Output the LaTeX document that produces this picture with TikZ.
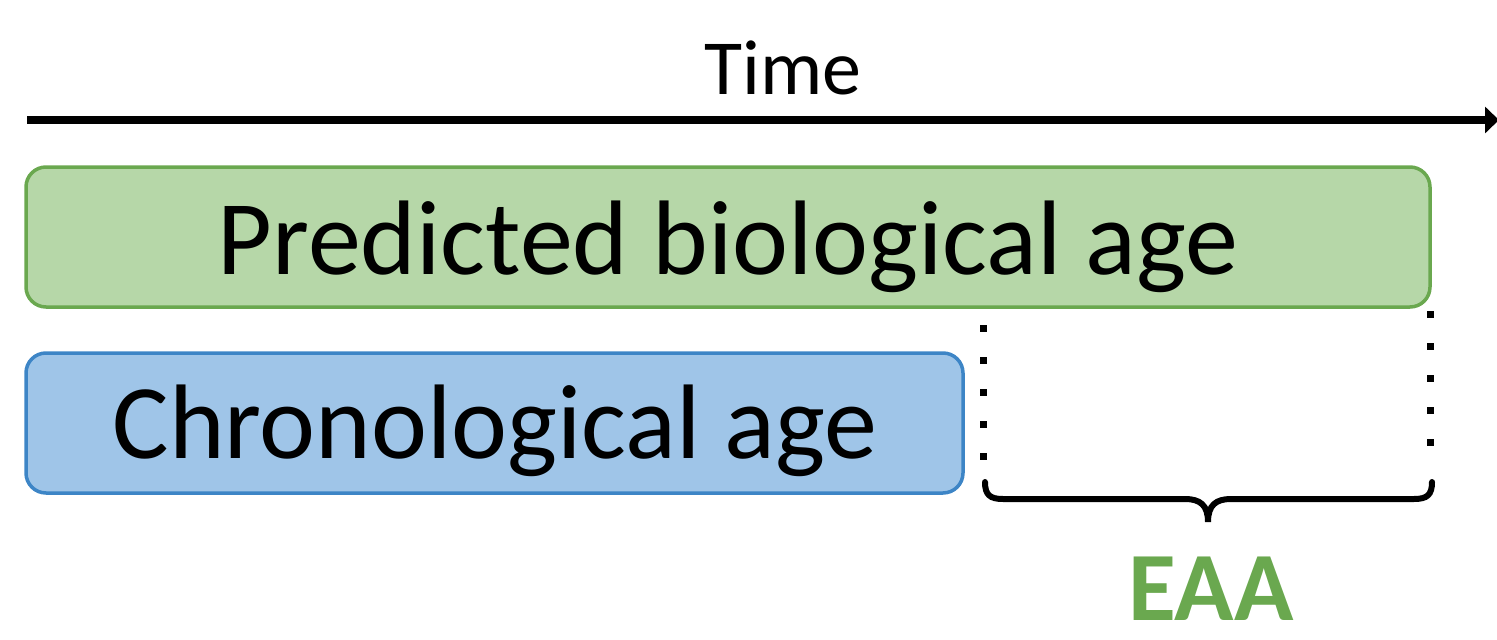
\documentclass[tikz,border=0pt]{standalone}
\usepackage{fontspec}
\setmainfont{Carlito}
\usetikzlibrary{arrows.meta}
\definecolor{gfill}{HTML}{B6D7A8}
\definecolor{gdraw}{HTML}{6AA84F}
\definecolor{bfill}{HTML}{9FC5E8}
\definecolor{bdraw}{HTML}{3D85C6}
\tikzset{
  agebox/.style={rounded corners=20pt, line width=3.5pt, inner sep=0pt, minimum height=140pt},
  bigtext/.style={font=\fontsize{106}{120}\selectfont, anchor=base, inner sep=0pt},
  dotline/.style={line width=7pt, dash pattern=on 7pt off 25pt},
}
\begin{document}
\begin{tikzpicture}[x=1pt,y=-1pt]
\useasboundingbox (0,0) rectangle (1497,640);
% time axis
\coordinate (t0) at (27,120);
\coordinate (t1) at (1499,120);
\draw[line width=7.5pt, -{Triangle[length=14pt,width=26pt]}] (t0) -- (t1);
\node[font=\fontsize{78}{90}\selectfont, anchor=base, inner sep=0pt] (time) at (783,94) {Time};
% boxes
\node[agebox, fill=gfill, draw=gdraw, minimum width=1404pt] (pred) at (728,237) {};
\node[bigtext] (predt) at (728,274) {Predicted biological age};
\node[agebox, fill=bfill, draw=bdraw, minimum width=937pt] (chron) at (494.5,423) {};
\node[bigtext] (chront) at (495,458) {Chronological age};
% dotted guides
\coordinate (l0) at (983,325);
\coordinate (l1) at (983,460);
\coordinate (r0) at (1430,311);
\coordinate (r1) at (1430,460);
\draw[dotline] (l0) -- (l1);
\draw[dotline] (r0) -- (r1);
% brace
\coordinate (bl) at (985,482);
\coordinate (br) at (1432,482);
\coordinate (bt) at (1208,522);
\draw[line width=6pt, line cap=round]
  (bl) .. controls (985,495) and (990,499) .. (1003,499)
  -- (1185,499) .. controls (1200,499) and (1208,505) .. (bt)
  .. controls (1208,505) and (1216,499) .. (1231,499)
  -- (1414,499) .. controls (1427,499) and (1432,495) .. (br);
\node[font=\fontsize{98}{110}\selectfont\bfseries, text=gdraw, anchor=base, inner sep=0pt] (eaa) at (1211,620) {EAA};
\end{tikzpicture}
\end{document}
